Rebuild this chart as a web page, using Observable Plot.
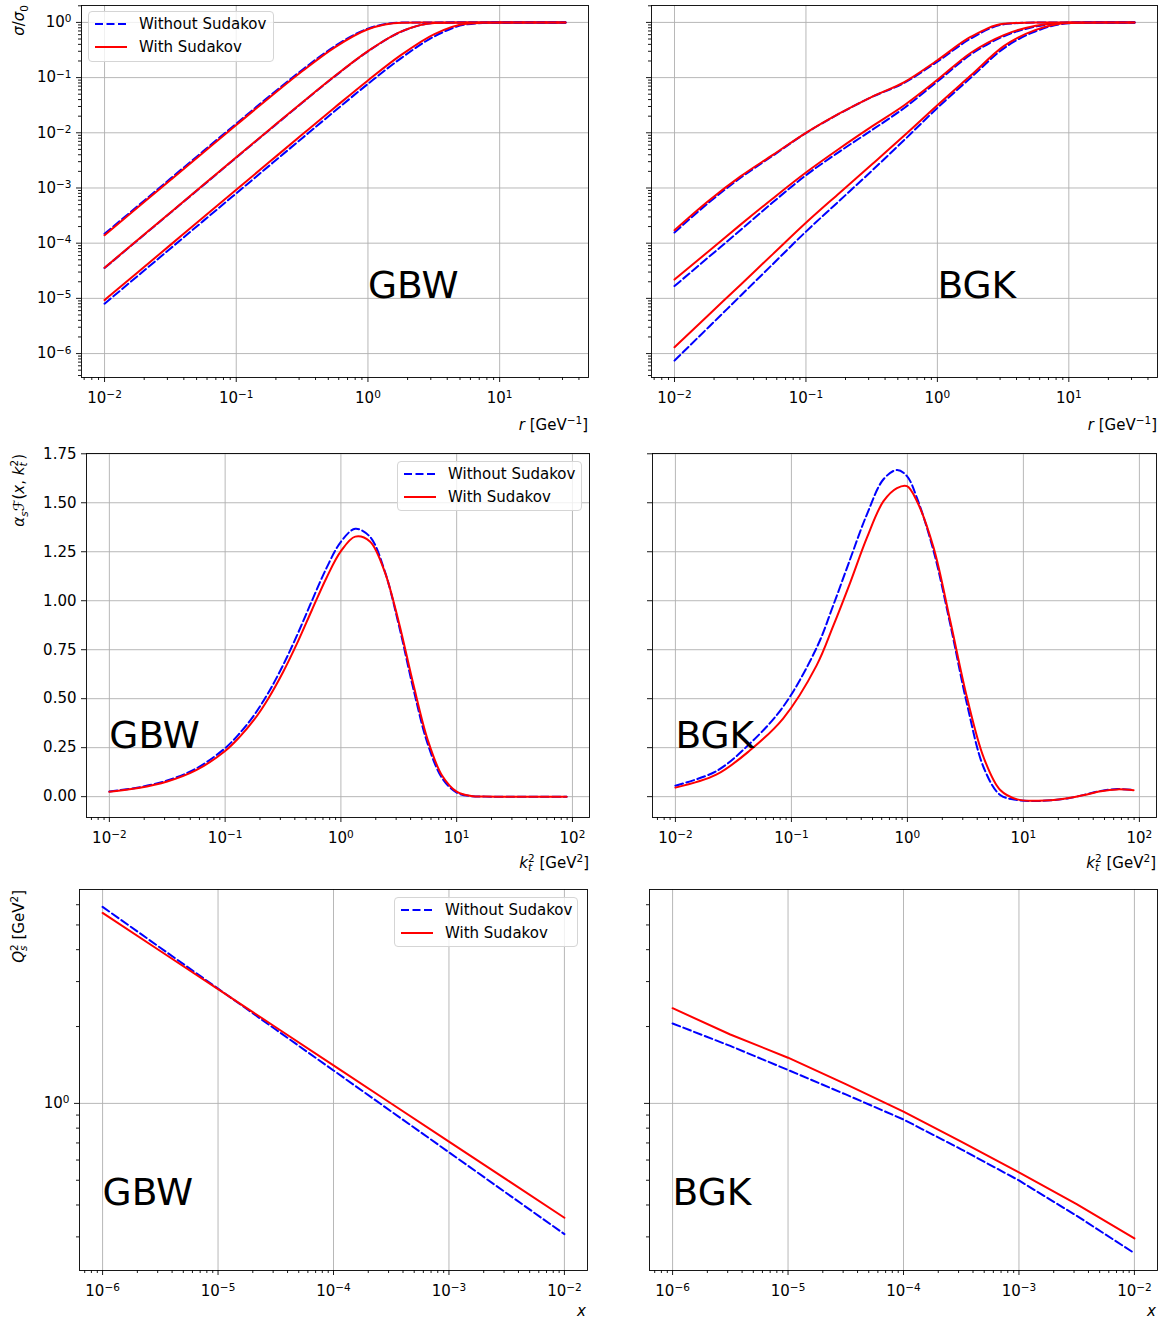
<!DOCTYPE html>
<html>
<head>
<meta charset="utf-8">
<script src="https://cdn.jsdelivr.net/npm/d3@7"></script>
<script src="https://cdn.jsdelivr.net/npm/@observablehq/plot@0.6"></script>
<style>
  body { margin: 0; background: #fff; }
  #fig { position: relative; width: 1166px; height: 1321px; font-family: "DejaVu Sans", sans-serif; color: #000; overflow: hidden; }
  #fig > svg { position: absolute; overflow: visible; }
  .lbl { position: absolute; font-size: 15px; line-height: 18px; white-space: nowrap; }
  .lbl sup, .lbl sub { font-size: 70%; line-height: 0; }
  .ylbl { transform-origin: 0 0; transform: rotate(-90deg) translateX(-100%); }
  .stk { display: inline-flex; flex-direction: column; font-size: 70%; line-height: 0.9; vertical-align: 0.6em; }
  .legend { position: absolute; background: rgba(255,255,255,0.8); border: 1px solid #d5d5d5; border-radius: 4px; font-size: 15px; box-sizing: border-box; }
  .legend span { position: absolute; line-height: 18px; white-space: nowrap; }
</style>
</head>
<body>
<div id="fig"></div>
<script>
// ---------------- DATA ----------------
const seriesNames = ["Without Sudakov", "With Sudakov"];
const models = ["GBW", "BGK"];

// Row 1: sigma/sigma0 vs r [GeV^-1], three x values each
const rValues = [0.01, 0.018, 0.032, 0.056, 0.1, 0.18, 0.32, 0.56, 1, 1.8, 3.2, 5.6, 10, 18, 31.6];
const gbwSigNoSud1 = [1.475e-4, 4.78e-4, 1.51e-3, 4.61e-3, 0.01464, 0.04667, 0.1402, 0.3704, 0.7712, 0.9916, 1, 1, 1, 1, 1];
const gbwSigSud1   = [1.39e-4, 4.51e-4, 1.425e-3, 4.357e-3, 0.01383, 0.04412, 0.1329, 0.3538, 0.7515, 0.989, 1, 1, 1, 1, 1];
const gbwSigNoSud2 = [3.55e-5, 1.15e-4, 3.635e-4, 1.113e-3, 3.544e-3, 0.01144, 0.0357, 0.1054, 0.2988, 0.6834, 0.9736, 1, 1, 1, 1];
const gbwSigSud2   = [3.6e-5, 1.166e-4, 3.686e-4, 1.128e-3, 3.594e-3, 0.0116, 0.0362, 0.1068, 0.3023, 0.6885, 0.9749, 1, 1, 1, 1];
const gbwSigNoSud3 = [8e-6, 2.59e-5, 8.19e-5, 2.509e-4, 7.997e-4, 2.589e-3, 8.159e-3, 0.02478, 0.07688, 0.2283, 0.5592, 0.9187, 0.9997, 1, 1];
const gbwSigSud3   = [9.3e-6, 3.01e-5, 9.52e-5, 2.917e-4, 9.296e-4, 3.008e-3, 9.478e-3, 0.02874, 0.0888, 0.2601, 0.6142, 0.9459, 0.9999, 1, 1];

const bgkSigNoSud1 = [1.56e-4, 5.31e-4, 1.55e-3, 3.85e-3, 9.9e-3, 0.0223, 0.0449, 0.0804, 0.195, 0.513, 0.923, 0.995, 1, 1, 1];
const bgkSigSud1   = [1.72e-4, 5.77e-4, 1.64e-3, 3.98e-3, 0.01, 0.0225, 0.0454, 0.0832, 0.2065, 0.55, 0.944, 1, 1, 1, 1];
const bgkSigNoSud2 = [1.67e-5, 5.48e-5, 1.75e-4, 5.5e-4, 1.7e-3, 4.57e-3, 0.01135, 0.0282, 0.0851, 0.263, 0.562, 0.841, 0.989, 1, 1];
const bgkSigSud2   = [2.19e-5, 7.0e-5, 2.19e-4, 6.46e-4, 1.905e-3, 5.19e-3, 0.01318, 0.0316, 0.0912, 0.282, 0.589, 0.871, 0.995, 1, 1];
const bgkSigNoSud3 = [7.46e-7, 2.94e-6, 1.13e-5, 4.18e-5, 1.62e-4, 5.89e-4, 2.09e-3, 7.41e-3, 0.0282, 0.1, 0.339, 0.692, 0.966, 0.999, 1];
const bgkSigSud3   = [1.3e-6, 4.9e-6, 1.79e-5, 6.34e-5, 2.34e-4, 8.13e-4, 2.72e-3, 8.91e-3, 0.0316, 0.11, 0.372, 0.733, 0.977, 1, 1];

// Row 2: alpha_s F(x, kt^2) vs kt^2 [GeV^2]
const gbwKt2 = [0.01, 0.0178, 0.0316, 0.0562, 0.1, 0.133, 0.178, 0.237, 0.316, 0.422, 0.562, 0.75, 1, 1.33, 1.78, 2.37, 3.16, 4.22, 5.62, 7.5, 10, 13.3, 17.8, 31.6, 56.2, 89.1];
const gbwUgdNoSud = [0.0264, 0.0467, 0.0822, 0.1435, 0.2474, 0.3223, 0.4161, 0.532, 0.6704, 0.8291, 0.9998, 1.1662, 1.3008, 1.3669, 1.3268, 1.1582, 0.8777, 0.5514, 0.2693, 0.094, 0.021, 0.0026, 0.0001, 0, 0, 0];
const gbwUgdSud   = [0.0248, 0.0439, 0.0772, 0.135, 0.233, 0.3038, 0.3927, 0.5026, 0.6348, 0.7871, 0.9526, 1.1162, 1.2527, 1.3272, 1.3024, 1.1539, 0.8916, 0.5747, 0.2905, 0.1062, 0.0253, 0.0034, 0.0002, 0, 0, 0];

const bgkKt2 = [0.01, 0.0225, 0.0437, 0.0851, 0.165, 0.229, 0.32, 0.447, 0.622, 0.813, 0.991, 1.208, 1.683, 2.344, 3.273, 4.571, 6.31, 8.85, 12.3, 17.2, 24.0, 33.4, 46.6, 64.6, 89.1];
const bgkUgdNoSud = [0.056, 0.13, 0.27, 0.46, 0.76, 0.975, 1.21, 1.44, 1.62, 1.667, 1.636, 1.525, 1.253, 0.878, 0.469, 0.145, 0.0085, -0.017, -0.022, -0.019, -0.009, 0.009, 0.029, 0.039, 0.034];
const bgkUgdSud   = [0.046, 0.112, 0.235, 0.4, 0.67, 0.87, 1.09, 1.321, 1.508, 1.575, 1.585, 1.508, 1.27, 0.895, 0.503, 0.196, 0.034, -0.014, -0.021, -0.019, -0.0085, 0.0085, 0.028, 0.037, 0.033];

// Row 3: Qs^2 [GeV^2] vs x
const xValues = [1e-6, 3.16e-6, 1e-5, 3.16e-5, 1e-4, 3.16e-4, 1e-3, 3.16e-3, 1e-2];
const gbwQsNoSud = [5.888, 4.072, 2.816, 1.947, 1.346, 0.9305, 0.6435, 0.4448, 0.3076];
const gbwQsSud   = [5.572, 3.953, 2.803, 1.987, 1.409, 0.9993, 0.7087, 0.5027, 0.3565];
const bgkQsNoSud = [2.056, 1.679, 1.352, 1.084, 0.865, 0.661, 0.499, 0.363, 0.259];
const bgkQsSud   = [2.36, 1.862, 1.51, 1.189, 0.929, 0.708, 0.537, 0.403, 0.296];

// Model-name annotation anchors (data coordinates)
const row1LabelAt = [1, 1e-5];
const row2LabelAt = [0.01, 0.25];
const row3LabelAt = [1e-6, 0.4];

// Linear tick values for row 2
const ugdTicks = [0, 0.25, 0.5, 0.75, 1.0, 1.25, 1.5, 1.75];

// ---------------- HELPERS ----------------
const fig = document.getElementById("fig");
const pts = (xs, ys) => xs.map((x, i) => ({x, y: ys[i]}));
function logPad(lo, hi, f = 0.05) {
  const a = Math.log10(lo), b = Math.log10(hi), d = (b - a) * f;
  return [10 ** (a - d), 10 ** (b + d)];
}
function linPad(lo, hi, f = 0.05) { const d = (hi - lo) * f; return [lo - d, hi + d]; }
function decadesIn(dom) {
  const out = [];
  for (let e = Math.ceil(Math.log10(dom[0]) - 1e-9); e <= Math.floor(Math.log10(dom[1]) + 1e-9); e++) out.push(10 ** e);
  return out;
}
function minorsIn(dom) {
  const out = [];
  for (let e = Math.floor(Math.log10(dom[0])) ; e <= Math.ceil(Math.log10(dom[1])); e++)
    for (let m = 2; m <= 9; m++) { const v = m * 10 ** e; if (v >= dom[0] && v <= dom[1]) out.push(v); }
  return out;
}
const powFmt = d => "10^" + Math.round(Math.log10(d));
const blank = () => "";

function fixSup(svg) {
  d3.select(svg).selectAll("text").each(function () {
    const m = /^10\^(-?\d+)$/.exec(this.textContent);
    if (m) {
      this.textContent = "10";
      const ts = document.createElementNS("http://www.w3.org/2000/svg", "tspan");
      ts.setAttribute("dy", "-0.45em");
      ts.setAttribute("font-size", "0.7em");
      ts.textContent = m[1].replace("-", "\u2212");
      this.appendChild(ts);
    }
  });
}

function panel(o) {
  const mL = 75, mR = 14, mT = 10, mB = 48;
  const marks = [
    Plot.gridX(o.xMajor, {stroke: "#b0b0b0", strokeOpacity: 1, strokeWidth: 0.9}),
    Plot.gridY(o.yMajor, {stroke: "#b0b0b0", strokeOpacity: 1, strokeWidth: 0.9})
  ];
  for (const s of o.series) {
    marks.push(Plot.line(pts(s.x, s.without), {x: "x", y: "y", stroke: "#0000ff", strokeWidth: 2, strokeDasharray: "8,3.5", curve: o.curve}));
    marks.push(Plot.line(pts(s.x, s.with), {x: "x", y: "y", stroke: "#ff0000", strokeWidth: 2, curve: o.curve}));
  }
  marks.push(Plot.text([{x: o.labelAt[0], y: o.labelAt[1], t: o.model}], {x: "x", y: "y", text: "t", fontSize: 37.5, textAnchor: "start", lineAnchor: "bottom", fill: "black"}));
  marks.push(Plot.axisX({ticks: o.xMinor, tickSize: 3, tickFormat: blank, strokeWidth: 0.9, label: null}));
  marks.push(Plot.axisX({ticks: o.xMajor, tickSize: 5, tickPadding: 10, tickFormat: powFmt, strokeWidth: 0.9, fontSize: 15, label: null}));
  if (o.yMinor) marks.push(Plot.axisY({ticks: o.yMinor, tickSize: 3, tickFormat: blank, strokeWidth: 0.9, label: null}));
  marks.push(Plot.axisY({ticks: o.yMajor, tickSize: 5, tickPadding: 5, tickFormat: o.showY ? o.yFormat : blank, strokeWidth: 0.9, fontSize: 15, label: null}));
  marks.push(Plot.frame({stroke: "black", strokeWidth: 0.9}));

  const svg = Plot.plot({
    width: o.w + mL + mR, height: o.h + mT + mB,
    marginLeft: mL, marginRight: mR, marginTop: mT, marginBottom: mB,
    style: {fontFamily: '"DejaVu Sans", sans-serif', fontSize: "15px", background: "transparent", overflow: "visible", color: "#000"},
    x: {type: "log", domain: o.xDomain},
    y: o.yLog ? {type: "log", domain: o.yDomain} : {type: "linear", domain: o.yDomain},
    marks
  });
  svg.style.left = (o.left - mL) + "px";
  svg.style.top = (o.top - mT) + "px";
  fixSup(svg);
  fig.appendChild(svg);
}

function label(html, css, cls = "lbl") {
  const d = document.createElement("div");
  d.className = cls;
  d.innerHTML = html;
  Object.assign(d.style, css);
  fig.appendChild(d);
}

function legend(left, top, w, h) {
  const d = document.createElement("div");
  d.className = "legend";
  Object.assign(d.style, {left: left + "px", top: top + "px", width: w + "px", height: h + "px"});
  const r1 = 13, r2 = 36;
  d.innerHTML =
    `<svg width="40" height="${h}" style="position:absolute;left:6px;top:-1px;overflow:visible">` +
    `<line x1="0" x2="32" y1="${r1}" y2="${r1}" stroke="#0000ff" stroke-width="2" stroke-dasharray="8,3.5"/>` +
    `<line x1="0" x2="32" y1="${r2}" y2="${r2}" stroke="#ff0000" stroke-width="2"/></svg>` +
    `<span style="left:50px;top:${r1 - 10}px">${seriesNames[0]}</span>` +
    `<span style="left:50px;top:${r2 - 10}px">${seriesNames[1]}</span>`;
  fig.appendChild(d);
}

// ---------------- ROW 1 ----------------
const row1All = [gbwSigNoSud1, gbwSigSud1, gbwSigNoSud2, gbwSigSud2, gbwSigNoSud3, gbwSigSud3,
                 bgkSigNoSud1, bgkSigSud1, bgkSigNoSud2, bgkSigSud2, bgkSigNoSud3, bgkSigSud3].flat();
const r1x = logPad(d3.min(rValues), d3.max(rValues));
const r1y = logPad(d3.min(row1All), d3.max(row1All));
const row1Common = {
  h: 372, top: 5, xDomain: r1x, yDomain: r1y, yLog: true,
  xMajor: decadesIn(r1x), xMinor: minorsIn(r1x), yMajor: decadesIn(r1y), yMinor: minorsIn(r1y),
  yFormat: powFmt, curve: "monotone-x", labelAt: row1LabelAt
};
panel({...row1Common, left: 81, w: 507, showY: true, model: models[0], series: [
  {x: rValues, without: gbwSigNoSud1, with: gbwSigSud1},
  {x: rValues, without: gbwSigNoSud2, with: gbwSigSud2},
  {x: rValues, without: gbwSigNoSud3, with: gbwSigSud3}]});
panel({...row1Common, left: 651, w: 506, showY: false, model: models[1], series: [
  {x: rValues, without: bgkSigNoSud1, with: bgkSigSud1},
  {x: rValues, without: bgkSigNoSud2, with: bgkSigSud2},
  {x: rValues, without: bgkSigNoSud3, with: bgkSigSud3}]});

// ---------------- ROW 2 ----------------
const row2All = [gbwUgdNoSud, gbwUgdSud, bgkUgdNoSud, bgkUgdSud].flat();
const r2x = logPad(d3.min(gbwKt2), d3.max(gbwKt2));
const r2y = linPad(d3.min(row2All), d3.max(row2All));
const row2Common = {
  h: 364, top: 453, xDomain: r2x, yDomain: r2y, yLog: false,
  xMajor: decadesIn(r2x), xMinor: minorsIn(r2x), yMajor: ugdTicks, yMinor: null,
  yFormat: d3.format(".2f"), curve: "catmull-rom", labelAt: row2LabelAt
};
panel({...row2Common, left: 86, w: 503, showY: true, model: models[0], series: [
  {x: gbwKt2, without: gbwUgdNoSud, with: gbwUgdSud}]});
panel({...row2Common, left: 652, w: 504, showY: false, model: models[1], series: [
  {x: bgkKt2, without: bgkUgdNoSud, with: bgkUgdSud}]});

// ---------------- ROW 3 ----------------
const row3All = [gbwQsNoSud, gbwQsSud, bgkQsNoSud, bgkQsSud].flat();
const r3x = logPad(d3.min(xValues), d3.max(xValues));
const r3y = logPad(d3.min(row3All), d3.max(row3All));
const row3Common = {
  h: 381, top: 889, xDomain: r3x, yDomain: r3y, yLog: true,
  xMajor: decadesIn(r3x), xMinor: minorsIn(r3x), yMajor: decadesIn(r3y), yMinor: minorsIn(r3y),
  yFormat: powFmt, curve: "linear", labelAt: row3LabelAt
};
panel({...row3Common, left: 79, w: 508, showY: true, model: models[0], series: [
  {x: xValues, without: gbwQsNoSud, with: gbwQsSud}]});
panel({...row3Common, left: 649, w: 508, showY: false, model: models[1], series: [
  {x: xValues, without: bgkQsNoSud, with: bgkQsSud}]});

// ---------------- LEGENDS ----------------
legend(88, 11, 186, 51);
legend(397, 461, 185, 50);
legend(394, 897, 184, 50);

// ---------------- AXIS LABELS ----------------
const stk = (sup, sub) => `<span class="stk"><span>${sup}</span><span>${sub}</span></span>`;
const rLab = `<i>r</i> [GeV<sup>\u22121</sup>]`;
const kLab = `<i>k</i>${stk("2", "<i>t</i>")} [GeV<sup>2</sup>]`;
label(rLab, {right: (1166 - 588) + "px", top: "416px"});
label(rLab, {right: (1166 - 1157) + "px", top: "416px"});
label(kLab, {right: (1166 - 589) + "px", top: "854px"});
label(kLab, {right: (1166 - 1156) + "px", top: "854px"});
label(`<i>x</i>`, {right: (1166 - 586) + "px", top: "1302px"});
label(`<i>x</i>`, {right: (1166 - 1156) + "px", top: "1302px"});

label(`<i>σ</i>/<i>σ</i><sub>0</sub>`, {left: "10px", top: "5px"}, "lbl ylbl");
label(`<i>α</i><sub><i>s</i></sub>ℱ(<i>x</i>, <i>k</i>${stk("2", "<i>t</i>")})`, {left: "10px", top: "454px"}, "lbl ylbl");
label(`<i>Q</i>${stk("2", "<i>s</i>")} [GeV<sup>2</sup>]`, {left: "10px", top: "890px"}, "lbl ylbl");
</script>
</body>
</html>
